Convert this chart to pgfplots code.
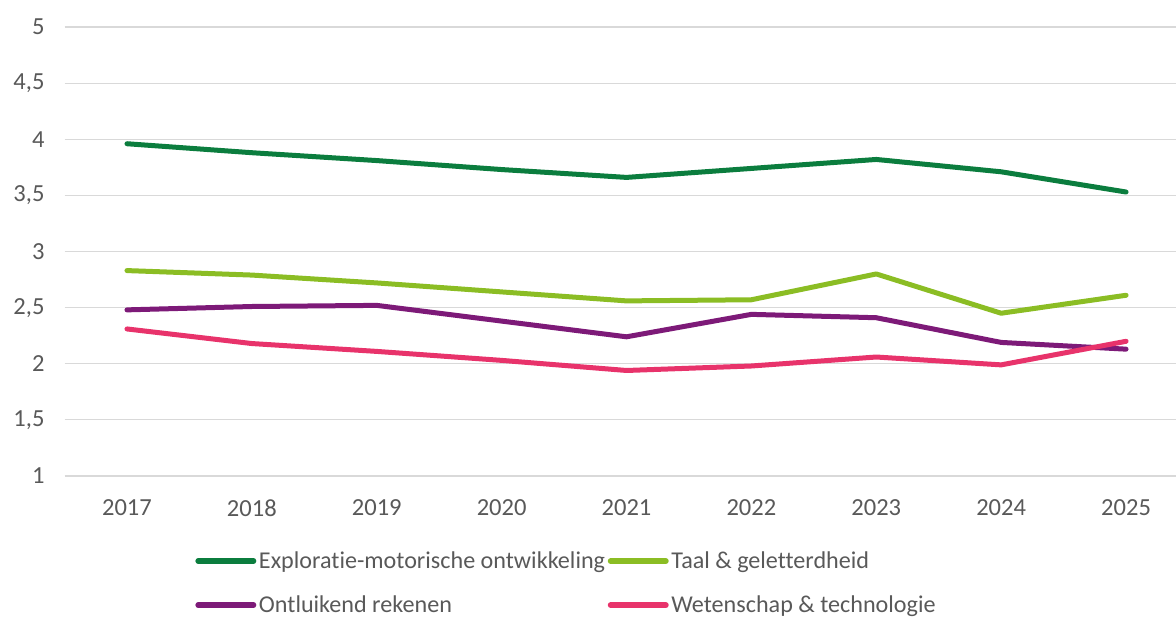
\documentclass[border=0pt]{standalone}
\usepackage{pgfplots}
\pgfplotsset{compat=1.18}
\usepackage{fontspec}
\setmainfont{Carlito}[Ligatures={NoCommon}]
\usetikzlibrary{calc}
\definecolor{cgreen}{HTML}{0B7D3E}
\definecolor{clime}{HTML}{8BBD24}
\definecolor{cpurple}{HTML}{7D1A78}
\definecolor{cpink}{HTML}{E8336B}
\definecolor{gridgray}{HTML}{D9D9D9}
\definecolor{labelgray}{HTML}{595959}
\begin{document}
\begin{tikzpicture}
\begin{axis}[
  scale only axis,
  width=833.6pt, height=336.75pt,
  xmin=-0.5, xmax=8.4, ymin=1, ymax=5,
  xtick={0,1,2,3,4,5,6,7,8},
  xticklabels={2017,2018,2019,2020,2021,2022,2023,2024,2025},
  ytick={1,1.5,2,2.5,3,3.5,4,4.5,5},
  ymajorgrids,
  grid style={draw=gridgray, line width=0.9pt},
  axis line style={draw=none},
  tick style={draw=none},
  clip=false,
  /pgf/number format/assume math mode=true,
  /pgf/number format/use comma,
  tick label style={font=\fontsize{18.4}{22}\selectfont, text=labelgray},
  yticklabel style={xshift=-11.5pt},
  xticklabel style={yshift=-14.5pt},
  legend columns=2,
  legend cell align=left,
  legend style={at={(axis description cs:0.1175,-0.162)}, anchor=north west,
    draw=none, fill=none, font=\fontsize{18.1}{22}\selectfont, text=labelgray,
    /tikz/every even column/.append style={column sep=0pt},
    row sep=15pt, inner sep=0pt},
  legend image code/.code={\draw[#1, line width=4.2pt, line cap=round] (0pt,0pt) -- (41.5pt,0pt);},
  every axis plot/.append style={line width=3.75pt, line cap=round, line join=round, mark=none},
]
\addplot[cgreen] coordinates {(0,3.96) (1,3.88) (2,3.81) (3,3.73) (4,3.66) (5,3.74) (6,3.82) (7,3.71) (8,3.53)};
\addlegendentry{Exploratie-motorische ontwikkeling}
\addplot[clime] coordinates {(0,2.83) (1,2.79) (2,2.72) (3,2.64) (4,2.56) (5,2.57) (6,2.80) (7,2.45) (8,2.61)};
\addlegendentry{Taal \& geletterdheid}
\addplot[cpurple] coordinates {(0,2.48) (1,2.51) (2,2.52) (3,2.38) (4,2.24) (5,2.44) (6,2.41) (7,2.19) (8,2.13)};
\addlegendentry{Ontluikend rekenen}
\addplot[cpink] coordinates {(0,2.31) (1,2.18) (2,2.11) (3,2.03) (4,1.94) (5,1.98) (6,2.06) (7,1.99) (8,2.20)};
\addlegendentry{Wetenschap \& technologie}
\end{axis}
\pgfresetboundingbox
\path ($(current axis.south west)+(-48.4pt,-107.5pt)$) rectangle ($(current axis.north east)+(0pt,20.25pt)$);
\end{tikzpicture}
\end{document}
